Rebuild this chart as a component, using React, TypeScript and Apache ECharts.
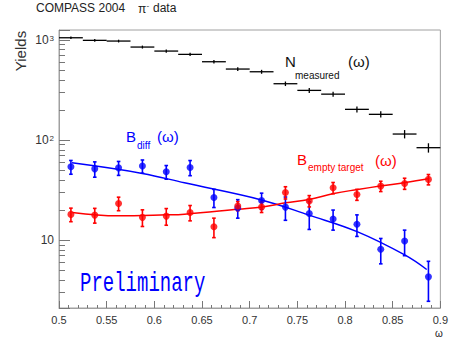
import React, { useEffect, useRef } from 'react';
import * as echarts from 'echarts';

// bin centres (omega), bin half-width 0.0125
const omega = [0.5125, 0.5375, 0.5625, 0.5875, 0.6125, 0.6375, 0.6625, 0.6875, 0.7125, 0.7375, 0.7625, 0.7875, 0.8125, 0.8375, 0.8625, 0.8875];
const BIN_HALF = 0.0125;

const nMeasured = [1054, 993, 977, 851, 776, 719, 607, 513, 482, 366, 314, 288, 203, 181, 115, 84];
const nMeasuredErr = [32, 31, 31, 29, 28, 27, 25, 23, 22, 19, 18, 17, 14, 13, 11, 9];

const bDiff = [54.1, 51.6, 52.8, 55.0, 48.2, 53.3, 26.7, 21.0, 24.9, 21.4, 18.5, 16.3, 14.4, 8.1, 9.8, 4.3];
const bDiffErr = [8.5, 9, 8.4, 8.3, 7.5, 9.2, 5.5, 4.4, 4.6, 5.6, 5.7, 3.7, 3.5, 2.3, 2.8, 1.85];

const bEmpty = [18.1, 17.8, 23.3, 16.9, 17.4, 18.9, 13.6, 22.0, 21.5, 30.0, 24.7, 33.4, 28.6, 34.7, 36.9, 40.5];
const bEmptyErr = [2.8, 3.0, 3.6, 3.2, 3.3, 3.3, 3.0, 2.3, 2.6, 4.2, 3.2, 4.3, 3.6, 4.1, 4.7, 4.8];

const fitDiffX = [0.5136, 0.5874, 0.6316, 0.7134, 0.7621, 0.8133, 0.8631, 0.8857];
const fitDiffY = [59.3, 46.5, 37.4, 25.1, 17.8, 12.1, 7.08, 5.09];

const fitEmptyX = [0.5139, 0.5616, 0.6128, 0.6316, 0.688, 0.7134, 0.7378, 0.7621, 0.7883, 0.8133, 0.8384, 0.8631, 0.8885];
const fitEmptyY = [18.9, 17.5, 17.9, 18.2, 20.4, 21.5, 23.6, 25.5, 29.3, 32.1, 34.9, 37.7, 41.4];

const xTicks = { min: 0.5, max: 0.9, interval: 0.05 };
const yRange = { min: 2.1, max: 1260 };

const FONT = '"Liberation Sans", Arial, sans-serif';

function errRender(color: string, withBin: boolean, cap: number, lw: number) {
  return (params: any, api: any) => {
    const x = api.value(0);
    const y = api.value(1);
    const e = api.value(2);
    const p = api.coord([x, y]);
    const hi = api.coord([x, y + e]);
    const lo = api.coord([x, y - e]);
    const children: any[] = [
      { type: 'line', shape: { x1: p[0], y1: hi[1], x2: p[0], y2: lo[1] }, style: { stroke: color, lineWidth: lw } },
    ];
    if (withBin) {
      const l = api.coord([x - BIN_HALF, y]);
      const r = api.coord([x + BIN_HALF, y]);
      children.push({ type: 'line', shape: { x1: l[0], y1: p[1], x2: r[0], y2: p[1] }, style: { stroke: color, lineWidth: lw } });
    }
    if (cap > 0) {
      children.push({ type: 'line', shape: { x1: p[0] - cap, y1: hi[1], x2: p[0] + cap, y2: hi[1] }, style: { stroke: color, lineWidth: lw } });
      children.push({ type: 'line', shape: { x1: p[0] - cap, y1: lo[1], x2: p[0] + cap, y2: lo[1] }, style: { stroke: color, lineWidth: lw } });
    }
    return { type: 'group', children };
  };
}

function txt(text: string, x: number, y: number, size: number, color: string, extra: any = {}) {
  return {
    type: 'text',
    x,
    y,
    ...extra,
    style: {
      text,
      fill: color,
      font: `${size}px ${extra.family || FONT}`,
      textAlign: extra.align || 'left',
      align: extra.align || 'left',
      textVerticalAlign: 'middle',
      verticalAlign: 'middle',
    },
  };
}

export default function App() {
  const ref = useRef<HTMLDivElement>(null);
  useEffect(() => {
    if (!ref.current) return;
    const chart = echarts.init(ref.current, undefined, { renderer: 'svg' });
    const blue = '#0000ff';
    const red = '#ff0000';
    const option: any = {
      animation: false,
      grid: { left: 59, right: 8, top: 30, bottom: 34, show: true, borderColor: '#a0a0a0', borderWidth: 1, backgroundColor: 'transparent' },
      xAxis: {
        type: 'value',
        min: xTicks.min,
        max: xTicks.max,
        interval: xTicks.interval,
        axisLine: { lineStyle: { color: '#a0a0a0' } },
        axisTick: { inside: true, length: 7, lineStyle: { color: '#777' } },
        minorTick: { show: true, splitNumber: 5, length: 3, lineStyle: { color: '#777' } },
        splitLine: { show: false },
        axisLabel: { color: '#333', fontSize: 11, fontFamily: FONT, margin: 6 },
      },
      yAxis: {
        type: 'log',
        logBase: 10,
        min: yRange.min,
        max: yRange.max,
        axisLine: { show: true, lineStyle: { color: '#a0a0a0' } },
        axisTick: { show: true, inside: true, length: 11, lineStyle: { color: '#777' } },
        minorTick: { show: true, splitNumber: 9, length: 6, lineStyle: { color: '#777' } },
        splitLine: { show: false },
        axisLabel: {
          showMinLabel: false,
          showMaxLabel: false,
          color: '#333',
          fontSize: 12,
          fontFamily: FONT,
          margin: 5,
          formatter: (v: number) => {
            const e = Math.round(Math.log10(v));
            if (e === 1) return '10';
            return '10{sup|' + e + '}';
          },
          rich: {
            sup: { fontSize: 8, fontFamily: FONT, color: '#333', verticalAlign: 'top', lineHeight: 8, padding: [0, 0, 6, 1] },
          },
        },
      },
      series: [
        {
          type: 'custom',
          renderItem: errRender('#000', true, 0, 1.3),
          data: omega.map((x, i) => [x, nMeasured[i], nMeasuredErr[i]]),
          encode: { x: 0, y: 1 },
          z: 3,
        },
        {
          type: 'line',
          data: fitDiffX.map((x, i) => [x, fitDiffY[i]]),
          smooth: 0.4,
          showSymbol: false,
          lineStyle: { color: blue, width: 1.5 },
          z: 2,
        },
        {
          type: 'line',
          data: fitEmptyX.map((x, i) => [x, fitEmptyY[i]]),
          smooth: 0.4,
          showSymbol: false,
          lineStyle: { color: red, width: 1.5 },
          z: 2,
        },
        {
          type: 'custom',
          renderItem: errRender(blue, false, 1.8, 1.6),
          data: omega.map((x, i) => [x, bDiff[i], bDiffErr[i]]),
          encode: { x: 0, y: 1 },
          z: 3,
        },
        {
          type: 'scatter',
          data: omega.map((x, i) => [x, bDiff[i]]),
          symbol: 'circle',
          symbolSize: 7,
          itemStyle: { color: blue },
          z: 4,
        },
        {
          type: 'custom',
          renderItem: errRender(red, false, 1.8, 1.6),
          data: omega.map((x, i) => [x, bEmpty[i], bEmptyErr[i]]),
          encode: { x: 0, y: 1 },
          z: 3,
        },
        {
          type: 'scatter',
          data: omega.map((x, i) => [x, bEmpty[i]]),
          symbol: 'circle',
          symbolSize: 7,
          itemStyle: { color: red },
          z: 4,
        },
      ],
      graphic: [
        txt('COMPASS 2004', 36, 8, 12, '#222'),
        txt('π', 138, 9, 12, '#222'),
        txt('-', 146.5, 5, 8, '#222'),
        txt('data', 153, 8, 12, '#222'),
        txt('Yields', 20, 51, 15, '#333', { rotation: Math.PI / 2, align: 'center' }),
        txt('N', 285, 61, 15, '#111'),
        txt('measured', 295, 75, 10, '#111'),
        txt('(ω)', 348, 61, 15, '#111'),
        txt('B', 126, 136.5, 15, blue),
        txt('diff', 137, 145, 10, blue),
        txt('(ω)', 157, 136.5, 15, blue),
        txt('B', 297, 159, 15, red),
        txt('empty target', 308, 167, 10, red),
        txt('(ω)', 375, 160, 15, red),
        txt('ω', 435, 333, 10, '#222'),
        {
          type: 'text',
          x: 80,
          y: 283,
          scaleY: 1.45,
          style: {
            text: 'Preliminary',
            fill: blue,
            font: '19px "Liberation Mono", "DejaVu Sans Mono", monospace',
            textAlign: 'left',
            align: 'left',
            textVerticalAlign: 'middle',
            verticalAlign: 'middle',
          },
        },
      ],
    };
    chart.setOption(option);
    return () => chart.dispose();
  }, []);
  return <div ref={ref} style={{ width: 451, height: 342, position: 'absolute', left: 0, top: 0 }} />;
}
